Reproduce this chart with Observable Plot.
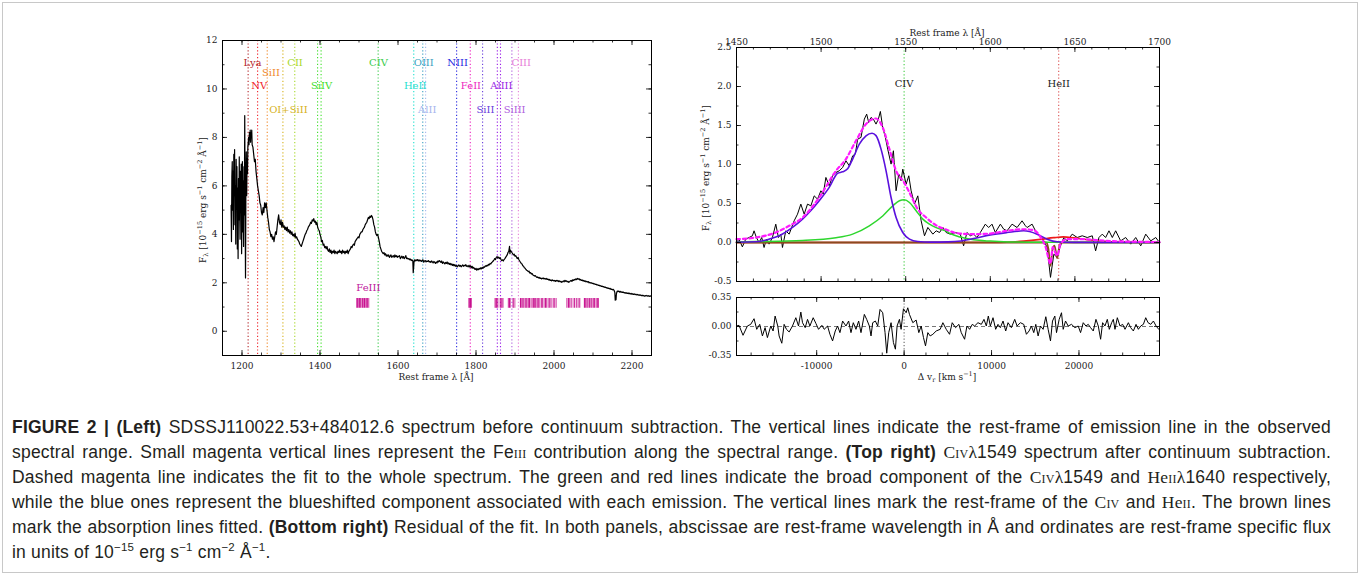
<!DOCTYPE html>
<html><head><meta charset="utf-8">
<script src="https://cdn.jsdelivr.net/npm/d3@7"></script>
<script src="https://cdn.jsdelivr.net/npm/@observablehq/plot@0.6"></script>
<style>
body{margin:0;background:#fff;}
#fig{position:relative;width:1360px;height:575px;overflow:hidden;background:#fff;}
#border{position:absolute;left:2px;top:2px;width:1354px;height:569px;border:1px solid #c8c8c8;}
.pl{position:absolute;}
.lab{position:absolute;font-family:"DejaVu Serif";font-size:9px;color:#222;white-space:nowrap;transform:translate(-50%,-50%);line-height:1;}
.ylab{transform:translate(-50%,-50%) rotate(-90deg);}
.lab sub,.lab sup{font-size:6.5px;line-height:0;}
#cap{position:absolute;left:12px;top:415px;width:1319px;font-family:"Liberation Sans";font-size:17.5px;letter-spacing:0.2px;line-height:25px;color:#231f20;}
#cap .ln{white-space:nowrap;text-align:justify;text-align-last:justify;height:25px;}
#cap .ln.last{text-align-last:left;}
#cap sup{font-size:11.5px;line-height:0;}
.ser{font-family:"Liberation Serif";}
.sc{font-variant:small-caps;}
</style></head><body>
<div id="fig">
<div id="border"></div>
<div id="pL" class="pl" style="left:0;top:0"></div>
<div id="pT" class="pl" style="left:680px;top:0"></div>
<div id="pB" class="pl" style="left:680px;top:290px"></div>
<div class="lab ylab" style="left:203px;top:200px">F<sub>λ</sub> [10<sup>−15</sup> erg s<sup>−1</sup> cm<sup>−2</sup> Å<sup>−1</sup>]</div>
<div class="lab ylab" style="left:706px;top:168px">F<sub>λ</sub> [10<sup>−15</sup> erg s<sup>−1</sup> cm<sup>−2</sup> Å<sup>−1</sup>]</div>
<div class="lab" style="left:436px;top:377px">Rest frame λ [Å]</div>
<div class="lab" style="left:947px;top:377px">Δ v<sub>r</sub> [km s<sup>−1</sup>]</div>
<div class="lab" style="left:947px;top:33px">Rest frame λ [Å]</div>
<div id="cap">
<div class="ln"><b>FIGURE 2 | (Left)</b> SDSSJ110022.53+484012.6 spectrum before continuum subtraction. The vertical lines indicate the rest-frame of emission line in the observed</div>
<div class="ln">spectral range. Small magenta vertical lines represent the Fe<span class="ser sc">iii</span> contribution along the spectral range. <b>(Top right)</b> <span class="ser">C<span class="sc">iv</span>λ</span>1549 spectrum after continuum subtraction.</div>
<div class="ln">Dashed magenta line indicates the fit to the whole spectrum. The green and red lines indicate the broad component of the <span class="ser">C<span class="sc">iv</span>λ</span>1549 and <span class="ser">He<span class="sc">ii</span>λ</span>1640 respectively,</div>
<div class="ln">while the blue ones represent the blueshifted component associated with each emission. The vertical lines mark the rest-frame of the <span class="ser">C<span class="sc">iv</span></span> and <span class="ser">He<span class="sc">ii</span></span>. The brown lines</div>
<div class="ln">mark the absorption lines fitted. <b>(Bottom right)</b> Residual of the fit. In both panels, abscissae are rest-frame wavelength in Å and ordinates are rest-frame specific flux</div>
<div class="ln last">in units of 10<sup>−15</sup> erg s<sup>−1</sup> cm<sup>−2</sup> Å<sup>−1</sup>.</div>
</div>
</div>
<script>
// ---------------- DATA ----------------
// Left panel: observed spectrum [rest wavelength Å, flux]
const leftSpectrum = [
[1172,5.2],[1173,3.7],[1174,6.4],[1175,7.0],[1176,5.0],[1177,6.6],[1178,4.2],[1179,7.3],[1180,5.6],[1181,7.5],[1182,4.4],[1183,6.0],[1184,3.6],[1185,7.1],[1186,5.3],[1187,6.8],[1188,3.4],[1189,5.9],[1190,3.0],[1191,6.3],[1192,4.6],[1193,7.2],[1194,5.0],[1195,3.8],[1196,6.6],[1197,4.9],[1198,6.9],[1199,3.2],[1200,5.5],[1201,7.0],[1202,4.1],[1203,6.2],[1204,3.5],[1205,6.8],[1206,4.8],[1207,8.9],[1208,5.2],[1209,2.2],[1210,6.1],[1211,7.4],[1212,5.6],[1213,7.1],[1214,6.5],[1215,7.6],
[1216,7.8],[1217,8.0],[1218,7.7],[1219,8.2],[1220,7.9],[1221,8.3],[1222,7.8],[1223,8.2],[1224,8.0],[1225,8.3],[1226,7.7],[1228,7.6],[1230,7.3],[1232,7.0],[1234,7.1],[1236,6.6],[1238,6.3],[1240,6.0],[1242,5.8],[1244,5.6],[1246,5.3],[1248,5.2],[1250,4.9],[1252,4.8],[1254,5.1],[1256,4.9],[1258,5.3],[1260,5.1],[1262,5.3],[1264,5.0],[1266,4.7],[1268,4.5],[1270,4.2],[1272,4.1],[1274,3.9],[1276,4.0],[1278,3.8],[1280,3.9],[1282,3.7],[1284,3.9],[1286,4.1],[1288,4.0],[1290,4.3],[1292,4.6],[1294,4.8],[1296,4.5],[1298,4.4],[1300,4.6],[1302,4.3],[1304,4.5],[1306,4.3],[1308,4.35],[1310,4.2],[1312,4.3],[1314,4.15],[1316,4.3],[1318,4.1],[1320,4.2],[1322,4.05],[1324,4.15],[1326,4.0],[1328,4.1],[1330,3.95],[1332,4.0],[1334,3.9],[1336,4.05],[1338,3.85],[1340,3.9],[1342,3.8],[1344,3.75],[1346,3.7],[1348,3.6],[1350,3.55],[1352,3.5],[1354,3.6],[1356,3.7],[1358,3.8],[1360,3.9],[1362,4.0],[1364,4.05],[1366,4.15],[1368,4.2],[1370,4.3],[1372,4.35],[1374,4.4],[1376,4.5],[1378,4.45],[1380,4.6],[1382,4.55],[1384,4.65],[1386,4.5],[1388,4.55],[1390,4.4],[1392,4.5],[1394,4.3],[1396,4.2],[1398,4.15],[1400,4.0],[1402,3.9],[1404,3.7],[1406,3.75],[1408,3.55],[1410,3.6],[1412,3.45],[1414,3.5],[1416,3.4],[1418,3.5],[1420,3.35],[1422,3.3],[1424,3.4],[1426,3.25],[1428,3.35],[1430,3.2],[1432,3.3],[1434,3.25],[1436,3.35],[1438,3.2],[1440,3.3],[1442,3.25],[1444,3.2],[1446,3.3],[1448,3.25],[1450,3.35],[1452,3.25],[1454,3.3],[1456,3.2],[1458,3.35],[1460,3.25],[1462,3.3],[1464,3.2],[1466,3.3],[1468,3.25],[1470,3.35],[1472,3.2],[1474,3.3],[1476,3.35],[1478,3.4],[1480,3.5],[1482,3.45],[1484,3.55],[1486,3.6],[1488,3.55],[1490,3.7],[1492,3.75],[1494,3.8],[1496,3.85],[1498,3.9],[1500,3.85],[1502,4.0],[1504,4.05],[1506,4.1],[1508,4.1],[1510,4.2],[1512,4.25],[1514,4.3],[1516,4.4],[1518,4.45],[1520,4.5],[1522,4.6],[1524,4.7],[1526,4.65],[1528,4.75],[1530,4.7],[1532,4.78],[1534,4.72],[1536,4.6],[1538,4.4],[1540,4.3],[1542,4.1],[1544,4.0],[1546,3.95],[1548,4.0],[1550,3.85],[1552,3.7],[1554,3.5],[1556,3.4],[1558,3.3],[1560,3.25],[1562,3.2],[1564,3.25],[1566,3.15],[1568,3.2],[1570,3.1],[1572,3.15],[1574,3.1],[1576,3.15],[1578,3.05],[1580,3.1],[1582,3.15],[1584,3.05],[1586,3.1],[1588,3.12],[1590,3.05],[1592,3.15],[1594,3.08],[1596,3.12],[1598,3.05],[1600,3.1],[1602,3.08],[1604,3.12],[1606,3.0],[1608,3.05],[1610,3.1],[1612,3.02],[1614,3.08],[1616,3.0],[1618,3.05],[1620,3.12],[1622,3.0],[1624,3.02],[1626,2.98],[1628,3.0],[1630,2.95],[1632,2.98],[1634,2.92],[1636,2.95],[1638,2.9],[1639,2.42],[1640,2.6],[1641,2.85],[1642,2.95],[1644,2.9],[1646,2.95],[1648,2.92],[1650,2.96],[1652,2.9],[1654,2.95],[1656,2.9],[1658,2.93],[1660,2.88],[1662,2.92],[1664,2.95],[1666,2.85],[1668,2.9],[1670,2.92],[1672,2.86],[1674,2.9],[1676,2.88],[1678,2.92],[1680,2.86],[1682,2.88],[1684,2.84],[1686,2.9],[1688,2.86],[1690,2.82],[1692,2.88],[1694,2.85],[1696,2.8],[1698,2.86],[1700,2.82],[1702,2.9],[1704,2.86],[1706,2.92],[1708,2.88],[1710,2.84],[1712,2.9],[1714,2.8],[1716,2.86],[1718,2.82],[1720,2.78],[1722,2.84],[1724,2.8],[1726,2.86],[1728,2.78],[1730,2.82],[1732,2.76],[1734,2.8],[1736,2.74],[1738,2.78],[1740,2.72],[1742,2.76],[1744,2.7],[1746,2.75],[1748,2.68],[1750,2.72],[1752,2.66],[1754,2.7],[1756,2.74],[1758,2.68],[1760,2.72],[1762,2.66],[1764,2.7],[1766,2.74],[1768,2.68],[1770,2.72],[1772,2.7],[1774,2.75],[1776,2.68],[1778,2.7],[1780,2.66],[1782,2.72],[1784,2.65],[1786,2.7],[1788,2.62],[1790,2.68],[1792,2.6],[1794,2.64],[1796,2.58],[1798,2.55],[1800,2.6],[1802,2.52],[1804,2.58],[1806,2.54],[1808,2.6],[1810,2.56],[1812,2.62],[1814,2.58],[1816,2.64],[1818,2.6],[1820,2.66],[1822,2.64],[1824,2.7],[1826,2.68],[1828,2.72],[1830,2.7],[1832,2.76],[1834,2.74],[1836,2.8],[1838,2.78],[1840,2.84],[1842,2.86],[1844,2.9],[1846,2.94],[1848,3.0],[1850,2.96],[1852,3.05],[1854,3.08],[1856,3.02],[1858,3.06],[1860,3.0],[1862,3.04],[1864,2.96],[1866,2.92],[1868,2.95],[1870,2.9],[1872,2.96],[1874,3.0],[1876,3.05],[1878,3.1],[1880,3.15],[1882,3.25],[1884,3.3],[1886,3.5],[1887,3.2],[1888,3.35],[1890,3.3],[1892,3.25],[1894,3.2],[1896,3.15],[1898,3.18],[1900,3.1],[1902,3.12],[1904,3.05],[1906,3.0],[1908,3.05],[1910,2.95],[1912,2.9],[1914,2.85],[1916,2.8],[1918,2.78],[1920,2.7],[1922,2.68],[1924,2.62],[1926,2.6],[1928,2.55],[1930,2.52],[1932,2.5],[1934,2.46],[1936,2.48],[1938,2.4],[1940,2.42],[1942,2.36],[1944,2.38],[1946,2.32],[1948,2.3],[1950,2.28],[1952,2.3],[1954,2.26],[1956,2.22],[1958,2.24],[1960,2.2],[1962,2.22],[1964,2.18],[1966,2.2],[1968,2.16],[1970,2.18],[1972,2.2],[1974,2.16],[1976,2.18],[1978,2.15],[1980,2.18],[1982,2.14],[1984,2.16],[1986,2.12],[1988,2.14],[1990,2.1],[1992,2.12],[1994,2.08],[1996,2.12],[1998,2.1],[2000,2.08],[2002,2.1],[2004,2.06],[2006,2.1],[2008,2.07],[2010,2.1],[2012,2.05],[2014,2.08],[2016,2.04],[2018,2.06],[2020,2.02],[2022,2.05],[2024,2.08],[2026,2.04],[2028,2.1],[2030,2.06],[2032,2.08],[2034,2.04],[2036,2.06],[2038,2.02],[2040,2.05],[2042,2.08],[2044,2.1],[2046,2.06],[2048,2.12],[2050,2.1],[2052,2.14],[2054,2.12],[2056,2.16],[2058,2.13],[2060,2.18],[2062,2.15],[2064,2.17],[2066,2.12],[2068,2.14],[2070,2.1],[2072,2.12],[2074,2.08],[2076,2.1],[2078,2.06],[2080,2.08],[2082,2.04],[2084,2.06],[2086,2.03],[2088,2.05],[2090,2.0],[2092,2.02],[2094,1.99],[2096,2.0],[2098,1.97],[2100,1.98],[2102,1.95],[2104,1.96],[2106,1.93],[2108,1.94],[2110,1.91],[2112,1.92],[2114,1.89],[2116,1.9],[2118,1.87],[2120,1.88],[2122,1.85],[2124,1.86],[2126,1.83],[2128,1.84],[2130,1.81],[2132,1.82],[2134,1.79],[2136,1.8],[2138,1.77],[2140,1.78],[2142,1.75],[2144,1.77],[2146,1.73],[2148,1.74],[2150,1.71],[2152,1.73],[2154,1.69],[2156,1.6],[2157,1.28],[2158,1.45],[2159,1.3],[2160,1.55],[2162,1.66],[2164,1.64],[2166,1.66],[2168,1.62],[2170,1.65],[2172,1.61],[2174,1.63],[2176,1.6],[2178,1.62],[2180,1.58],[2182,1.6],[2184,1.57],[2186,1.59],[2188,1.56],[2190,1.58],[2192,1.55],[2194,1.57],[2196,1.54],[2198,1.56],[2200,1.53],[2202,1.55],[2204,1.52],[2206,1.54],[2208,1.51],[2210,1.53],[2212,1.5],[2214,1.52],[2216,1.49],[2218,1.51],[2220,1.48],[2222,1.5],[2224,1.47],[2226,1.49],[2228,1.46],[2230,1.48],[2232,1.45],[2234,1.47],[2236,1.46],[2238,1.48],[2240,1.45],[2242,1.47],[2244,1.44],[2246,1.46],[2248,1.45],[2250,1.46]
];
// Emission lines (rest-frame wavelengths)
const lineNames = ["Lya","NV","SiII","OI+SiII","CII","SiIV","SiIV","CIV","HeII","OIII","AlII","NIII","FeII","SiII","AlIII","AlIII","SiIII","CIII"];
const lineWaves = [1215.7,1240.0,1264.7,1304.9,1335.3,1393.8,1402.8,1549.1,1640.4,1663.5,1670.8,1750.3,1785.3,1816.9,1854.7,1862.8,1892.0,1908.7];
// Line labels: text, wavelength and flux where they are written
const labelText = ["Lya","SiII","NV","OI+SiII","CII","SiIV","CIV","HeII","OIII","AlII","NIII","FeII","SiII","AlIII","SiIII","CIII"];
const labelWave = [1227,1274,1244,1319,1336,1404,1550,1644,1666,1675,1753,1787,1824,1865,1899,1916];
const labelFlux = [11.1,10.65,10.15,9.15,11.1,10.15,11.1,10.15,11.1,9.15,11.1,10.15,9.15,10.15,9.15,11.1];
// FeIII template lines and relative strengths
const feWaves = [1494,1496,1499,1501,1504,1506,1509,1511,1514,1517,1519,1522,1525,1782,1784,1786,1788,1849,1851,1853,1856,1862,1864,1866,1869,1883,1886,1888,1895,1897,1900,1914,1917,1920,1922,1926,1929,1931,1934,1937,1941,1944,1947,1950,1953,1956,1958,1961,1964,1968,1971,1975,1978,1981,1985,1988,1992,1995,1999,2002,2006,2033,2037,2040,2044,2049,2053,2058,2062,2066,2078,2081,2084,2087,2091,2094,2097,2101,2104,2108,2111,2114];
const feStrength = [0.7,0.9,0.6,1,0.8,0.5,0.9,0.7,1,0.6,0.8,0.9,0.7,1,0.9,1,0.8,0.9,0.6,1,0.8,0.7,1,0.6,0.9,0.8,1,0.6,0.9,0.7,0.5,1,0.7,0.9,0.6,1,0.8,0.5,0.9,1,0.7,0.6,1,0.8,0.9,0.5,0.7,1,0.6,0.8,0.9,0.5,1,0.7,0.6,0.9,0.8,0.5,0.7,0.9,0.6,0.8,1,0.7,0.9,0.6,1,0.8,0.7,0.9,1,0.8,0.7,1,0.9,0.6,1,0.8,0.9,0.7,1,0.8];
const feBand = [0.95, 1.35];
const feLabel = {text: "FeIII", wave: 1524, flux: 1.78};

// Right panels: velocity relative to CIV [km/s]
const restCIV = 1549.06, restHeII = 1640.42, cLight = 299792.458;
const topWaveRange = [1450, 1700];
const observed = [[-19170,0.0],[-18884,0.043],[-18501,-0.056],[-18119,0.043],[-17737,0.064],[-17355,0.086],[-17164,0.15],[-16896,0.064],[-16590,0.0],[-16284,0.064],[-16017,-0.064],[-15749,0.043],[-15443,-0.021],[-15061,0.064],[-14679,0.235],[-14373,0.064],[-14105,0.107],[-13914,-0.064],[-13532,0.15],[-13150,0.107],[-12577,0.278],[-12194,0.363],[-11812,0.492],[-11430,0.363],[-11048,0.492],[-10665,0.47],[-10283,0.598],[-9901,0.556],[-9519,0.663],[-9251,0.62],[-8945,0.834],[-8563,0.727],[-8180,0.855],[-7798,0.898],[-7416,0.919],[-7034,0.962],[-6651,1.047],[-6269,0.983],[-5887,1.111],[-5581,1.133],[-5314,1.325],[-4932,1.347],[-4549,1.582],[-4282,1.646],[-4053,1.539],[-3785,1.603],[-3518,1.582],[-3212,1.518],[-2944,1.582],[-2715,1.68],[-2447,1.475],[-2141,1.347],[-1873,1.197],[-1491,1.005],[-1223,1.176],[-917,0.663],[-612,0.877],[-344,0.791],[-153,0.94],[229,0.748],[535,0.855],[803,0.663],[1185,0.492],[1567,0.598],[1950,0.278],[2332,0.086],[2714,0.193],[3287,0.107],[3670,0.15],[4052,0.128],[4434,0.193],[4817,0.128],[5275,0.107],[5849,0.128],[6422,0.107],[6804,-0.043],[7186,0.128],[7569,0.086],[7951,0.107],[8333,0.064],[8715,0.128],[9289,0.235],[9671,0.192],[10053,0.235],[10435,0.128],[11009,0.235],[11391,0.171],[11773,0.15],[12346,0.235],[12920,0.192],[13493,0.278],[13876,0.214],[14067,0.192],[14640,0.235],[15214,0.107],[15787,0.064],[16361,-0.064],[16743,-0.447],[17125,-0.15],[17508,-0.192],[17814,-0.064],[18273,0.064],[18655,0.021],[19228,0.107],[19801,0.064],[20375,0.086],[20948,0.064],[21521,0.086],[21904,-0.107],[22286,0.064],[22668,0.107],[23050,0.064],[23433,0.15],[23815,0.064],[24197,0.15],[24771,0.021],[25344,0.064],[25917,-0.021],[26491,0.064],[27064,-0.043],[27637,0.107],[28211,0.021],[28784,0.064],[29210,0.0]];
const fitTotal = [[-19170,0.043],[-16972,0.064],[-14679,0.128],[-13150,0.214],[-11620,0.32],[-9710,0.577],[-7798,0.919],[-6651,1.07],[-5505,1.304],[-4358,1.518],[-3212,1.59],[-2447,1.475],[-1682,1.197],[-917,0.919],[0,0.77],[612,0.64],[1567,0.427],[2523,0.32],[3670,0.22],[4817,0.165],[6039,0.12],[7951,0.107],[9863,0.115],[11773,0.15],[13685,0.17],[14831,0.158],[15596,0.07],[16170,-0.05],[16743,-0.27],[17000,-0.06],[17125,-0.085],[17508,-0.17],[17890,-0.02],[18655,0.043],[20184,0.043],[23241,0.021],[27064,0.009],[29210,0.005]];
const blueshifted = [[-19170,0.004],[-16972,0.009],[-15443,0.043],[-14296,0.086],[-12768,0.193],[-11620,0.30],[-9710,0.535],[-8563,0.706],[-7607,0.888],[-7034,0.906],[-6461,0.945],[-5887,1.07],[-5123,1.26],[-4358,1.368],[-3670,1.40],[-3212,1.37],[-2638,1.197],[-2064,0.919],[-1491,0.577],[-917,0.32],[-153,0.128],[612,0.043],[1567,0.012],[3000,0.005],[5000,0.008],[6500,0.02],[7951,0.051],[9863,0.098],[11773,0.128],[13685,0.15],[15214,0.107],[16361,0.043],[17508,0.009],[19418,0.002],[29210,0.0]];
const civBroad = [[-19170,0.008],[-16972,0.012],[-11620,0.026],[-7798,0.06],[-5887,0.107],[-3975,0.214],[-2447,0.34],[-1300,0.47],[-535,0.535],[0,0.547],[612,0.513],[1376,0.406],[2141,0.30],[2906,0.235],[3670,0.19],[4817,0.145],[5275,0.115],[6422,0.07],[7951,0.035],[9863,0.018],[12000,0.008],[16000,0.002],[29210,0]];
const heiiBroad = [[-19170,0],[10000,0],[11773,0.004],[13685,0.018],[15596,0.04],[17125,0.062],[18200,0.072],[19418,0.06],[21330,0.032],[23241,0.012],[25535,0.004],[29210,0]];
const absorption = [[-19170,0],[16250,0],[16500,-0.08],[16743,-0.3],[16990,-0.08],[17200,-0.04],[17508,-0.2],[17800,-0.03],[18100,0],[29210,0]];
const residual = [[-19170,0.006],[-18884,0.014],[-18425,-0.106],[-17929,0.006],[-17547,0.026],[-17164,0.094],[-16858,-0.034],[-16514,0.026],[-16208,-0.114],[-15902,-0.014],[-15635,-0.134],[-15252,0.006],[-14985,-0.054],[-14756,0.126],[-14450,0.006],[-14296,-0.114],[-13990,-0.202],[-13723,0.026],[-13455,-0.034],[-13150,-0.066],[-12768,0.006],[-12385,0.106],[-12079,0.006],[-11812,0.174],[-11620,0.046],[-11314,-0.014],[-11048,0.086],[-10780,0.006],[-10398,0.106],[-10093,0.038],[-9787,-0.034],[-9404,0.014],[-9137,-0.034],[-8754,0.006],[-8487,-0.094],[-8181,-0.174],[-7875,-0.054],[-7607,0.006],[-7340,-0.074],[-7034,0.066],[-6651,0.006],[-6346,0.066],[-6078,-0.074],[-5811,0.046],[-5505,-0.034],[-5199,0.066],[-4932,-0.074],[-4549,0.146],[-4282,0.086],[-3976,0.006],[-3785,-0.114],[-3594,0.046],[-3288,0.066],[-3020,0.006],[-2753,0.206],[-2447,0.166],[-2179,-0.074],[-1988,-0.322],[-1759,-0.074],[-1491,0.046],[-1223,-0.194],[-994,-0.274],[-803,0.006],[-535,0.086],[-344,-0.034],[-76,0.214],[229,0.166],[420,0.226],[612,0.146],[994,0.046],[1376,0.078],[1682,-0.074],[1950,0.006],[2217,-0.134],[2447,-0.234],[2714,-0.074],[2982,-0.114],[3288,-0.094],[3670,-0.054],[4128,-0.034],[4434,0.046],[4817,-0.034],[5198,-0.094],[5504,0.046],[5887,-0.014],[6269,0.026],[6537,-0.074],[6919,-0.154],[7186,0.006],[7492,-0.034],[7798,0.026],[8066,0.006],[8448,0.046],[8831,0.026],[9136,0.086],[9404,0.006],[9633,0.126],[9862,0.006],[10168,0.106],[10474,-0.034],[10741,0.026],[11009,-0.014],[11315,0.066],[11621,-0.054],[11888,0.046],[12270,-0.014],[12652,0.086],[12920,0.006],[13302,0.046],[13685,0.026],[13990,-0.094],[14296,-0.054],[14564,0.006],[14831,-0.074],[15061,0.026],[15328,-0.114],[15596,0.006],[15902,-0.034],[16208,0.118],[16476,-0.034],[16743,-0.174],[16973,0.066],[17240,0.126],[17431,-0.074],[17737,0.086],[18004,0.166],[18196,-0.034],[18463,0.066],[18769,0.006],[19151,0.026],[19533,-0.014],[19916,0.006],[20183,-0.074],[20489,0.046],[20795,0.006],[21062,0.026],[21330,-0.014],[21636,-0.054],[21942,0.086],[22209,0.006],[22477,-0.154],[22706,0.046],[22974,0.006],[23241,0.086],[23471,-0.034],[23738,0.046],[23929,0.086],[24120,-0.034],[24388,0.106],[24694,0.006],[24999,0.026],[25267,-0.034],[25649,0.046],[25917,-0.014],[26223,-0.054],[26528,0.026],[26796,-0.034],[27064,0.006],[27369,0.026],[27637,0.106],[27904,0.046],[28210,0.026],[28516,0.066],[28822,0.006],[29128,-0.034]];

// ---------------- STYLE ----------------
const lineColor = {"Lya":"#b5272a","NV":"#f0232a","SiII":"#f08a2c","OI+SiII":"#d6b21c","CII":"#a8d82a","SiIV":"#3fe02a","CIV":"#3acb4a","HeII":"#1fe0cf","OIII":"#3a9fc0","AlII":"#a6b6ee","NIII":"#2a2ae0","FeII":"#ee1fbf","AlIII":"#9a1fe6","SiIII":"#b060de","CIII":"#e880d8"};
const lineColorAt = (name, w) => (name === "SiII" && w > 1800) ? "#6a40dc" : lineColor[name];
const serif = "DejaVu Serif";

function boxTicks(xMaj, xMin, yMaj, yMin, iw, ih) {
  const L = 5, S = 2.5, o = {stroke: "#000", strokeWidth: 0.8};
  return [
    Plot.tickX(xMaj, {x: d => d, insetTop: ih - L, ...o}),
    Plot.tickX(xMaj, {x: d => d, insetBottom: ih - L, ...o}),
    Plot.tickX(xMin, {x: d => d, insetTop: ih - S, ...o}),
    Plot.tickX(xMin, {x: d => d, insetBottom: ih - S, ...o}),
    Plot.tickY(yMaj, {y: d => d, insetRight: iw - L, ...o}),
    Plot.tickY(yMaj, {y: d => d, insetLeft: iw - L, ...o}),
    Plot.tickY(yMin, {y: d => d, insetRight: iw - S, ...o}),
    Plot.tickY(yMin, {y: d => d, insetLeft: iw - S, ...o})
  ];
}
const baseStyle = {fontFamily: serif, fontSize: "9px", color: "#222", background: "transparent", overflow: "visible"};

// ---------------- LEFT PANEL ----------------
const lines = lineNames.map((n, i) => ({n, w: lineWaves[i], c: lineColorAt(n, lineWaves[i])}));
const labels = labelText.map((t, i) => ({t, w: labelWave[i], f: labelFlux[i], c: lineColorAt(t, labelWave[i])}));
const fe = feWaves.map((w, i) => ({w, s: feStrength[i]}));
const L = {w: 680, h: 395, l: 222, r: 29, t: 40, b: 40};
const leftPlot = Plot.plot({
  width: L.w, height: L.h, marginLeft: L.l, marginRight: L.r, marginTop: L.t, marginBottom: L.b,
  style: baseStyle,
  x: {domain: [1150, 2250]}, y: {domain: [-1, 12]},
  color: {type: "identity"},
  marks: [
    Plot.ruleX(lines, {x: "w", stroke: "c", strokeWidth: 1.1, strokeDasharray: "1.2,2.2"}),
    Plot.ruleX(fe, {x: "w", y1: () => feBand[0], y2: () => feBand[1], stroke: "#c8108f", strokeOpacity: "s", strokeWidth: 1.1}),
    Plot.text([feLabel], {x: "wave", y: "flux", text: "text", fill: "#c0209c", fontSize: 10, fontFamily: serif}),
    Plot.line(leftSpectrum, {x: d => d[0], y: d => d[1], stroke: "#000", strokeWidth: 1.2}),
    Plot.text(labels, {x: "w", y: "f", text: "t", fill: "c", fontSize: 10, fontFamily: serif}),
    Plot.frame({stroke: "#000", strokeWidth: 1}),
    ...boxTicks(d3.range(1200, 2201, 200), d3.range(1150, 2251, 50), d3.range(0, 13, 2), d3.range(-1, 13, 1), L.w - L.l - L.r, L.h - L.t - L.b),
    Plot.axisX(d3.range(1200, 2201, 200), {anchor: "bottom", tickSize: 0, tickPadding: 7, label: null, tickFormat: d => String(d)}),
    Plot.axisY(d3.range(0, 13, 2), {anchor: "left", tickSize: 0, tickPadding: 5, label: null, tickFormat: d => String(d)})
  ]
});
document.getElementById("pL").appendChild(leftPlot);

// ---------------- RIGHT PANELS ----------------
const vOf = lam => cLight * (lam / restCIV - 1);
const vDomain = topWaveRange.map(vOf);
const restLines = [{n: "CIV", v: vOf(restCIV), c: "#44cc44"}, {n: "HeII", v: vOf(restHeII), c: "#dd5555"}];
const T = {w: 680, h: 290, l: 56, r: 201, t: 47, b: 9};
const topTicksMaj = d3.range(1450, 1701, 50).map(vOf);
const topTicksMin = d3.range(1450, 1701, 10).map(vOf);
const vMaj = [-10000, 0, 10000, 20000];
const vMin = d3.range(-17500, 29000, 2500);
const xy = {x: d => d[0], y: d => d[1]};
const topPlot = Plot.plot({
  width: T.w, height: T.h, marginLeft: T.l, marginRight: T.r, marginTop: T.t, marginBottom: T.b,
  style: baseStyle,
  x: {domain: vDomain}, y: {domain: [-0.5, 2.5]},
  color: {type: "identity"},
  marks: [
    Plot.ruleX(restLines, {x: "v", stroke: "c", strokeWidth: 1.1, strokeDasharray: "1.2,2.2"}),
    Plot.text(restLines, {x: "v", y: () => 2.03, text: "n", fill: "#222", fontSize: 10, fontFamily: serif}),
    Plot.line(observed, {...xy, stroke: "#000", strokeWidth: 1}),
    Plot.line(heiiBroad, {...xy, stroke: "#ee1a1a", strokeWidth: 1.6, curve: "monotone-x"}),
    Plot.line(absorption, {...xy, stroke: "#8b4a1e", strokeWidth: 1.8, curve: "monotone-x"}),
    Plot.line(civBroad, {...xy, stroke: "#2ed62e", strokeWidth: 1.5, curve: "monotone-x"}),
    Plot.line(blueshifted, {...xy, stroke: "#5a10dd", strokeWidth: 1.6, curve: "monotone-x"}),
    Plot.line(fitTotal, {...xy, stroke: "#ff1aff", strokeWidth: 2.2, strokeDasharray: "3.5,3", curve: "monotone-x"}),
    Plot.frame({stroke: "#000", strokeWidth: 1}),
    ...boxTicks(topTicksMaj, topTicksMin, d3.range(-0.5, 2.51, 0.5), d3.range(-0.5, 2.51, 0.25), T.w - T.l - T.r, T.h - T.t - T.b),
    Plot.axisX(topTicksMaj, {anchor: "top", tickSize: 0, tickPadding: 3, label: null, tickFormat: v => String(Math.round(restCIV * (1 + v / cLight)))}),
    Plot.axisY(d3.range(-0.5, 2.51, 0.5), {anchor: "left", tickSize: 0, tickPadding: 5, label: null, tickFormat: d => d.toFixed(1)})
  ]
});
document.getElementById("pT").appendChild(topPlot);

const B = {w: 680, h: 100, l: 56, r: 201, t: 7, b: 35};
const resPlot = Plot.plot({
  width: B.w, height: B.h, marginLeft: B.l, marginRight: B.r, marginTop: B.t, marginBottom: B.b,
  style: baseStyle,
  x: {domain: vDomain}, y: {domain: [-0.35, 0.35]},
  marks: [
    Plot.ruleY([0], {stroke: "#777", strokeWidth: 1, strokeDasharray: "4,3"}),
    Plot.ruleX([vOf(restCIV)], {stroke: "#666", strokeWidth: 1.1, strokeDasharray: "1.2,2"}),
    Plot.line(residual, {...xy, stroke: "#000", strokeWidth: 1}),
    Plot.frame({stroke: "#000", strokeWidth: 1}),
    ...boxTicks(vMaj, vMin, [-0.35, 0, 0.35], [-0.175, 0.175], B.w - B.l - B.r, B.h - B.t - B.b),
    Plot.axisX(vMaj, {anchor: "bottom", tickSize: 0, tickPadding: 7, label: null, tickFormat: d => String(d)}),
    Plot.axisY([-0.35, 0, 0.35], {anchor: "left", tickSize: 0, tickPadding: 5, label: null, tickFormat: d => d.toFixed(2)})
  ]
});
document.getElementById("pB").appendChild(resPlot);
</script>
</body></html>
